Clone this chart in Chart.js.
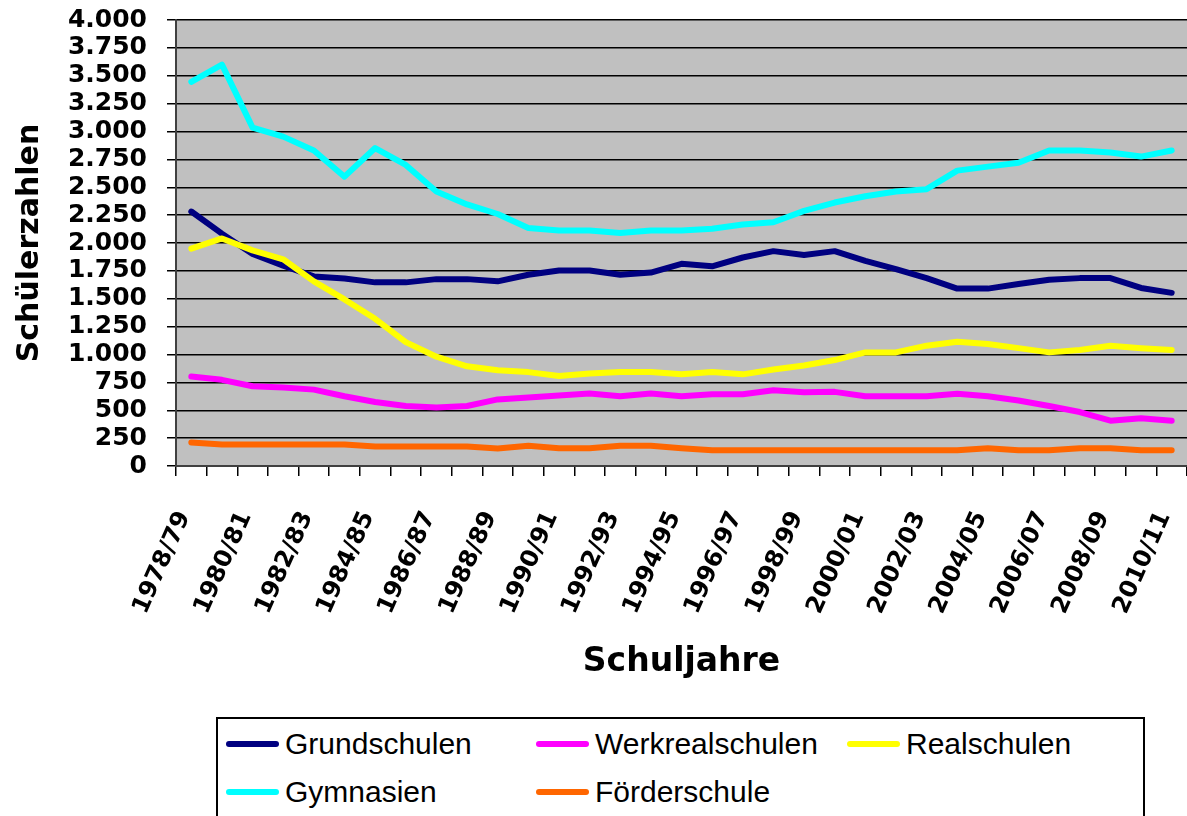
<!DOCTYPE html>
<html>
<head>
<meta charset="utf-8">
<script src="https://cdn.jsdelivr.net/npm/chart.js@4.4.1/dist/chart.umd.min.js"></script>
<style>
html,body{margin:0;padding:0;background:#fff;}
#wrap{position:relative;width:1187px;height:816px;overflow:hidden;background:#fff;}
#c{position:absolute;left:0;top:0;}
#legend{position:absolute;left:216px;top:717px;width:929px;height:130px;border:2px solid #000;box-sizing:border-box;background:#fff;}
.item{position:absolute;height:40px;width:300px;}
.sw{position:absolute;top:17px;left:0;width:53px;height:6px;border-radius:3px;}
.lbl{position:absolute;left:59px;top:0;line-height:40px;font-family:"Liberation Sans",Arial,sans-serif;font-size:30px;white-space:nowrap;color:#000;}
</style>
</head>
<body>
<div id="wrap">
  <canvas id="c" width="1187" height="816"></canvas>
  <div id="legend"></div>
</div>
<script>
const schuljahre = ["1978/79","1979/80","1980/81","1981/82","1982/83","1983/84","1984/85","1985/86","1986/87","1987/88","1988/89","1989/90","1990/91","1991/92","1992/93","1993/94","1994/95","1995/96","1996/97","1997/98","1998/99","1999/00","2000/01","2001/02","2002/03","2003/04","2004/05","2005/06","2006/07","2007/08","2008/09","2009/10","2010/11"];

const grundschulen = [2282,2084,1902,1797,1700,1682,1647,1647,1676,1676,1656,1715,1753,1753,1715,1735,1813,1791,1870,1927,1892,1927,1839,1766,1685,1591,1591,1632,1671,1685,1685,1597,1553];
const werkrealschulen = [802,773,715,703,685,626,574,538,524,538,597,615,632,650,626,650,626,644,644,679,662,665,626,626,626,647,626,588,538,484,406,428,406];
const realschulen = [1949,2041,1934,1854,1656,1494,1320,1111,980,894,859,842,807,830,842,842,822,842,822,865,902,950,1019,1019,1079,1114,1095,1057,1019,1041,1079,1057,1041];
const gymnasien = [3445,3600,3035,2954,2830,2595,2852,2700,2462,2346,2260,2134,2113,2113,2090,2113,2113,2128,2166,2186,2288,2363,2419,2462,2483,2649,2685,2720,2830,2830,2812,2775,2830];
const foerderschule = [211,193,193,193,193,193,175,175,175,175,157,181,160,160,181,181,160,142,142,142,142,142,142,142,142,142,160,142,142,160,160,142,142];

const seriesNames = ["Grundschulen","Werkrealschulen","Realschulen","Gymnasien","Förderschule"];
const seriesColors = ["#000080","#FF00FF","#FFFF00","#00FFFF","#FF6600"];
const seriesData = [grundschulen, werkrealschulen, realschulen, gymnasien, foerderschule];

const yTickMin = 0, yTickMax = 4000, yTickStep = 250;

function fmtDE(v){
  return String(Math.round(v)).replace(/\B(?=(\d{3})+(?!\d))/g, ".");
}

const plotBg = {
  id: 'plotBg',
  beforeDraw(chart){
    const {ctx, chartArea:a} = chart;
    ctx.save();
    ctx.fillStyle = '#C0C0C0';
    ctx.fillRect(a.left, a.top, a.right - a.left, a.bottom - a.top);
    ctx.restore();
  }
};

const boldFont = 'DejaVu Sans';

const datasets = seriesNames.map((name, i) => ({
  label: name,
  data: seriesData[i],
  borderColor: seriesColors[i],
  backgroundColor: seriesColors[i],
  borderWidth: 6,
  pointRadius: 0,
  pointHoverRadius: 0,
  tension: 0,
  fill: false,
  borderJoinStyle: 'round',
  borderCapStyle: 'round',
  order: seriesNames.length - i
}));

new Chart(document.getElementById('c'), {
  type: 'line',
  data: { labels: schuljahre, datasets },
  plugins: [plotBg],
  options: {
    responsive: false,
    animation: false,
    events: [],
    layout: { padding: { left: 0, right: 0, top: 20, bottom: 126 } },
    plugins: {
      legend: { display: false },
      tooltip: { enabled: false }
    },
    scales: {
      x: {
        type: 'category',
        offset: true,
        grid: { display: true, drawOnChartArea: false, drawTicks: true, tickLength: 10, offset: true, color: '#000', lineWidth: 1.5 },
        border: { display: true, color: '#404040', width: 2 },
        ticks: {
          autoSkip: false,
          minRotation: 66,
          maxRotation: 66,
          padding: 31,
          labelOffset: -7,
          color: '#000',
          font: { family: boldFont, weight: 'bold', size: 24 },
          callback: (v, i) => (i % 2 === 0 ? schuljahre[i] : '')
        },
        title: {
          display: true,
          text: 'Schuljahre',
          color: '#000',
          font: { family: boldFont, weight: 'bold', size: 33 },
          padding: { top: 0, bottom: 8 }
        },
        afterFit(s){ s.height = 224; s.paddingLeft = 0; s.paddingRight = 0; }
      },
      y: {
        min: yTickMin,
        max: yTickMax,
        grid: { color: '#000', lineWidth: 1.5, tickLength: 9 },
        border: { display: true, color: '#404040', width: 2 },
        ticks: {
          autoSkip: false,
          stepSize: yTickStep,
          padding: 20,
          color: '#000',
          font: { family: boldFont, weight: 'bold', size: 25, lineHeight: 1.0 },
          callback: v => fmtDE(v)
        },
        title: {
          display: true,
          text: 'Schülerzahlen',
          color: '#000',
          font: { family: boldFont, weight: 'bold', size: 30 },
          padding: { top: 12, bottom: 0 }
        },
        afterFit(s){ s.width = 176; s.paddingTop = 0; s.paddingBottom = 0; }
      }
    }
  }
});

// HTML legend built from the series arrays
const legendEl = document.getElementById('legend');
const colX = [8, 318, 629];
const rowY = [5, 53];
seriesNames.forEach((name, i) => {
  const item = document.createElement('div');
  item.className = 'item';
  item.style.left = colX[i % 3] + 'px';
  item.style.top = rowY[Math.floor(i / 3)] + 'px';
  const sw = document.createElement('div');
  sw.className = 'sw';
  sw.style.background = seriesColors[i];
  const lbl = document.createElement('span');
  lbl.className = 'lbl';
  lbl.textContent = name;
  item.appendChild(sw);
  item.appendChild(lbl);
  legendEl.appendChild(item);
});
</script>
</body>
</html>
